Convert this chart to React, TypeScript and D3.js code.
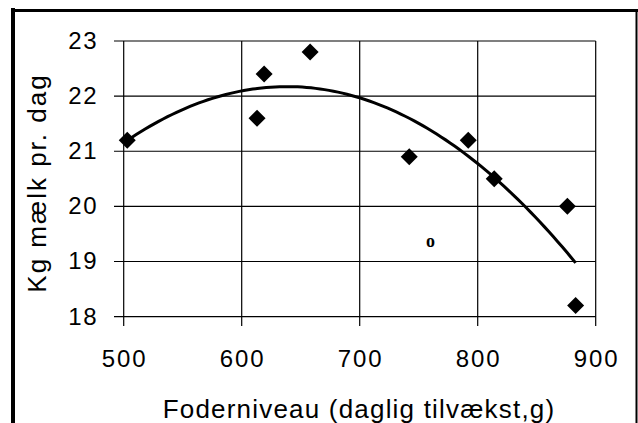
import React from "react";
import * as d3 from "d3";

const feedLevel = [503, 613, 619, 658, 742, 792, 814, 876, 883];
const milkKg = [21.2, 21.6, 22.4, 22.8, 20.9, 21.2, 20.5, 20.0, 18.2];
const xTicks = [500, 600, 700, 800, 900];
const yTicks = [18, 19, 20, 21, 22, 23];
const xTitle = "Foderniveau (daglig tilvækst,g)";
const yTitle = "Kg mælk pr. dag";
const markText = "o";
const markPos = [760, 19.26];

// least-squares quadratic trendline from the data
function quadFit(xs: number[], ys: number[]) {
  const n = xs.length;
  const m = d3.mean(xs) as number;
  const u = xs.map((x) => (x - m) / 100);
  const s = (f: (i: number) => number) => d3.sum(d3.range(n), f);
  const S0 = n, S1 = s((i) => u[i]), S2 = s((i) => u[i] ** 2), S3 = s((i) => u[i] ** 3), S4 = s((i) => u[i] ** 4);
  const T0 = s((i) => ys[i]), T1 = s((i) => u[i] * ys[i]), T2 = s((i) => u[i] ** 2 * ys[i]);
  const A = [[S0, S1, S2, T0], [S1, S2, S3, T1], [S2, S3, S4, T2]];
  for (let i = 0; i < 3; i++) {
    for (let k = i + 1; k < 3; k++) {
      const f = A[k][i] / A[i][i];
      for (let j = i; j < 4; j++) A[k][j] -= f * A[i][j];
    }
  }
  const c = [0, 0, 0];
  for (let i = 2; i >= 0; i--) {
    let v = A[i][3];
    for (let j = i + 1; j < 3; j++) v -= A[i][j] * c[j];
    c[i] = v / A[i][i];
  }
  return (x: number) => {
    const t = (x - m) / 100;
    return c[0] + c[1] * t + c[2] * t * t;
  };
}

export default function App() {
  const W = 638, H = 423;
  const x = d3.scaleLinear().domain([500, 900]).range([123.7, 595.7]);
  const y = d3.scaleLinear().domain([18, 23]).range([316.6, 41]);
  const fit = quadFit(feedLevel, milkKg);
  const [x0, x1] = d3.extent(feedLevel) as [number, number];
  const curvePts = d3.range(0, 101).map((i) => x0 + ((x1 - x0) * i) / 100);
  const line = d3
    .line<number>()
    .x((d) => x(d))
    .y((d) => y(fit(d)))
    .curve(d3.curveLinear);
  const font = "'Liberation Sans', Arial, sans-serif";
  const dsz = 8.5;
  return (
    <div style={{ position: "fixed", left: 0, top: 0 }}>
      <svg width={W} height={H} style={{ display: "block", background: "#fff" }}>
        {/* outer frame */}
        <line x1={13} y1={8} x2={13} y2={H} stroke="#000" strokeWidth={4} />
        <line x1={11} y1={10.5} x2={638} y2={10.5} stroke="#000" strokeWidth={3} />
        <line x1={636.5} y1={9} x2={636.5} y2={H} stroke="#000" strokeWidth={2} />
        {/* grid */}
        {yTicks.map((t) => (
          <line key={"h" + t} x1={114} x2={x(900)} y1={y(t)} y2={y(t)} stroke="#000" strokeWidth={1.2} />
        ))}
        {xTicks.map((t) => (
          <line key={"v" + t} x1={x(t)} x2={x(t)} y1={y(23)} y2={326} stroke="#000" strokeWidth={1.2} />
        ))}
        {/* tick labels */}
        {yTicks.map((t) => (
          <text key={"yl" + t} x={98} y={y(t) + 8} textAnchor="end" fontFamily={font} fontSize={24} letterSpacing={1.5}>
            {t}
          </text>
        ))}
        {xTicks.map((t) => (
          <text key={"xl" + t} x={x(t) + 1} y={366.5} textAnchor="middle" fontFamily={font} fontSize={24} letterSpacing={2}>
            {t}
          </text>
        ))}
        {/* trendline */}
        <path d={line(curvePts) || ""} fill="none" stroke="#000" strokeWidth={3} strokeLinejoin="round" />
        {/* points */}
        {feedLevel.map((fx, i) => {
          const cx = x(fx), cy = y(milkKg[i]);
          return (
            <path
              key={"p" + i}
              d={`M${cx},${cy - dsz}L${cx + dsz},${cy}L${cx},${cy + dsz}L${cx - dsz},${cy}Z`}
              fill="#000"
            />
          );
        })}
        <text x={x(markPos[0])} y={y(markPos[1])} textAnchor="middle" fontFamily="'Liberation Serif', 'Times New Roman', serif" fontWeight="bold" fontSize={18}>
          {markText}
        </text>
        {/* axis titles */}
        <text x={359} y={417.5} textAnchor="middle" fontFamily={font} fontSize={26} letterSpacing={1.2}>
          {xTitle}
        </text>
        <text transform="translate(46,183) rotate(-90)" textAnchor="middle" fontFamily={font} fontSize={26} letterSpacing={2}>
          {yTitle}
        </text>
      </svg>
    </div>
  );
}
